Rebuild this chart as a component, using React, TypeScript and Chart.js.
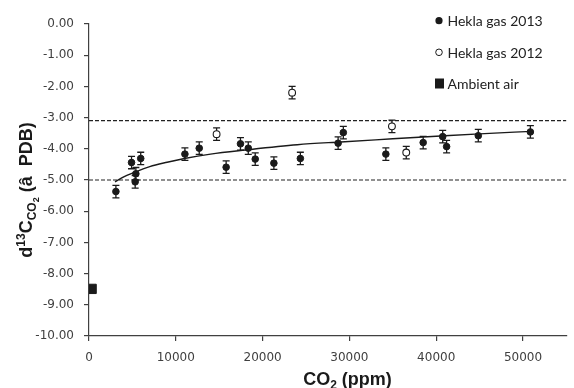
import React, { useEffect, useRef } from 'react';
import { Chart, registerables } from 'chart.js';
Chart.register(...registerables);

// Hekla gas 2013 (filled circles)
const co2_2013 = [3100, 4900, 5400, 5320, 5960, 11050, 12700, 15800, 17450, 18350, 19150, 21300, 24350, 28700, 29300, 34200, 38500, 40750, 41200, 44850, 50850];
const d13c_2013 = [-5.37, -4.44, -4.80, -5.06, -4.31, -4.17, -3.98, -4.59, -3.84, -3.98, -4.33, -4.46, -4.31, -3.82, -3.48, -4.17, -3.80, -3.61, -3.93, -3.58, -3.46];
// Hekla gas 2012 (open circles)
const co2_2012 = [14700, 23400, 34900, 36550];
const d13c_2012 = [-3.53, -2.20, -3.28, -4.12];
// Ambient air
const co2_air = [300];
const d13c_air = [-8.49];
const errBar = 0.2;
// trend curve
const trendX = [3000, 4000, 5000, 7000, 9000, 11000, 14000, 18000, 24000, 29000, 35000, 41000, 45000, 51000];
const trendY = [-5.06, -4.9, -4.78, -4.57, -4.43, -4.31, -4.17, -4.04, -3.87, -3.78, -3.68, -3.58, -3.52, -3.44];
// reference dashed lines
const dashY = [-3.1, -5.0];
const xRange = [0, 55000];
const xTicks = [0, 10000, 20000, 30000, 40000, 50000];
const yTicks = [0, -1, -2, -3, -4, -5, -6, -7, -8, -9, -10];
const legendLabels = ['Hekla gas 2013', 'Hekla gas 2012', 'Ambient air'];

const INK = '#1a1a1a';
const AXIS = '#404040';

const toPts = (xs: number[], ys: number[]) => xs.map((x, i) => ({ x, y: ys[i] }));

export default function App() {
  const ref = useRef<HTMLCanvasElement | null>(null);
  useEffect(() => {
    const canvas = ref.current!;
    const errPlugin = {
      id: 'errbars',
      beforeDatasetsDraw(chart: any) {
        const ctx = chart.ctx;
        const xs = chart.scales.x, ys = chart.scales.y;
        ctx.save();
        ctx.strokeStyle = INK;
        ctx.lineWidth = 1.3;
        const sets: [number[], number[]][] = [[co2_2013, d13c_2013], [co2_2012, d13c_2012]];
        sets.forEach(([xa, ya]) => {
          xa.forEach((xv, i) => {
            const px = xs.getPixelForValue(xv);
            const t = ys.getPixelForValue(ya[i] + errBar);
            const b = ys.getPixelForValue(ya[i] - errBar);
            ctx.beginPath();
            ctx.moveTo(px, t); ctx.lineTo(px, b);
            ctx.moveTo(px - 3.5, t); ctx.lineTo(px + 3.5, t);
            ctx.moveTo(px - 3.5, b); ctx.lineTo(px + 3.5, b);
            ctx.stroke();
          });
        });
        ctx.restore();
      },
    };
    const textPlugin = {
      id: 'texts',
      afterDraw(chart: any) {
        const ctx = chart.ctx;
        ctx.save();
        // legend
        ctx.fillStyle = INK;
        ctx.strokeStyle = INK;
        ctx.font = '14px Lato';
        ctx.textBaseline = 'middle';
        ctx.textAlign = 'left';
        const lx = 439, tx = 447.5;
        const ly = [20.7, 52.3, 83.5];
        ctx.beginPath(); ctx.arc(lx, ly[0], 3.6, 0, Math.PI * 2); ctx.fill();
        ctx.lineWidth = 1; ctx.beginPath(); ctx.arc(lx, ly[1], 3.3, 0, Math.PI * 2); ctx.stroke();
        ctx.fillRect(435, ly[2] - 5, 9, 10);
        ctx.fillStyle = '#222';
        legendLabels.forEach((l, i) => ctx.fillText(l, tx, ly[i] + 1));

        // x title
        ctx.fillStyle = INK;
        ctx.textBaseline = 'alphabetic';
        const big = 'bold 18px "Liberation Sans", Arial, sans-serif';
        const sub = 'bold 12px "Liberation Sans", Arial, sans-serif';
        ctx.font = big; const w1 = ctx.measureText('CO').width; const w3 = ctx.measureText(' (ppm)').width;
        ctx.font = sub; const w2 = ctx.measureText('2').width;
        let x0 = 347.5 - (w1 + w2 + w3) / 2;
        const by = 385;
        ctx.font = big; ctx.fillText('CO', x0, by); x0 += w1;
        ctx.font = sub; ctx.fillText('2', x0, by + 4); x0 += w2;
        ctx.font = big; ctx.fillText(' (ppm)', x0, by);

        // y title
        ctx.translate(31.5, 190);
        ctx.rotate(-Math.PI / 2);
        const parts: [string, string, number][] = [
          ['d', big, 0],
          ['13', 'bold 12px "Liberation Sans", Arial, sans-serif', -7],
          ['C', big, 0],
          ['CO', 'bold 12px "Liberation Sans", Arial, sans-serif', 4],
          ['2', 'bold 9px "Liberation Sans", Arial, sans-serif', 7],
          [' (â  PDB)', big, 0],
        ];
        let total = 0;
        const ws = parts.map(([s, f]) => { ctx.font = f; const w = ctx.measureText(s).width; total += w; return w; });
        let cx = -total / 2;
        parts.forEach(([s, f, dy], i) => { ctx.font = f; ctx.fillText(s, cx, dy); cx += ws[i]; });
        ctx.restore();
      },
    };
    const chart = new Chart(canvas, {
      type: 'scatter',
      data: {
        datasets: [
          { label: legendLabels[0], data: toPts(co2_2013, d13c_2013), pointRadius: 3.3, pointBackgroundColor: INK, pointBorderColor: INK, pointBorderWidth: 1 },
          { label: legendLabels[1], data: toPts(co2_2012, d13c_2012), pointRadius: 3.4, pointBackgroundColor: '#fff', pointBorderColor: INK, pointBorderWidth: 1.1 },
          { label: legendLabels[2], data: toPts(co2_air, d13c_air), pointStyle: 'rect', pointRadius: 6.6, pointBackgroundColor: INK, pointBorderColor: INK, pointBorderWidth: 1 },
          { type: 'line', label: 'trend', data: toPts(trendX, trendY), borderColor: INK, borderWidth: 1.4, pointRadius: 0, cubicInterpolationMode: 'monotone', fill: false },
          { type: 'line', label: 'upper', data: toPts(xRange, [dashY[0], dashY[0]]), borderColor: '#222', borderWidth: 1.2, borderDash: [4, 2], pointRadius: 0, fill: false },
          { type: 'line', label: 'lower', data: toPts(xRange, [dashY[1], dashY[1]]), borderColor: '#222', borderWidth: 1.2, borderDash: [4, 2], pointRadius: 0, fill: false },
        ] as any,
      },
      options: {
        responsive: false,
        animation: false,
        devicePixelRatio: 1,
        layout: { padding: { top: 24, right: 0, left: 0, bottom: 0 } },
        plugins: { legend: { display: false }, tooltip: { enabled: false } },
        scales: {
          x: {
            type: 'linear', min: xRange[0], max: xRange[1],
            afterFit: (s: any) => { s.height = 52; },
            afterBuildTicks: (s: any) => { s.ticks = xTicks.map((v) => ({ value: v })); },
            ticks: { autoSkip: false, color: AXIS, padding: 10, maxRotation: 0, minRotation: 0, font: { family: 'DejaVu Sans', size: 12 }, callback: (v: any) => String(v) },
            grid: { display: true, drawOnChartArea: false, drawTicks: true, tickLength: 5, color: AXIS, lineWidth: 1.2 },
            border: { display: true, color: AXIS, width: 1.2 },
          },
          y: {
            type: 'linear', min: -10, max: 0,
            afterFit: (s: any) => { s.width = 89; },
            afterBuildTicks: (s: any) => { s.ticks = yTicks.map((v) => ({ value: v })); },
            ticks: { autoSkip: false, color: AXIS, padding: 10, font: { family: 'DejaVu Sans', size: 12 }, callback: (v: any) => Number(v).toFixed(2) },
            grid: { display: true, drawOnChartArea: false, drawTicks: true, tickLength: 5, color: AXIS, lineWidth: 1.2 },
            border: { display: true, color: AXIS, width: 1.2 },
          },
        },
      },
      plugins: [errPlugin, textPlugin],
    } as any);
    return () => chart.destroy();
  }, []);
  return (
    <div style={{ position: 'fixed', left: 0, top: 0, width: 574, height: 388, background: '#fff' }}>
      <canvas ref={ref} width={574} height={388} style={{ display: 'block' }} />
    </div>
  );
}
